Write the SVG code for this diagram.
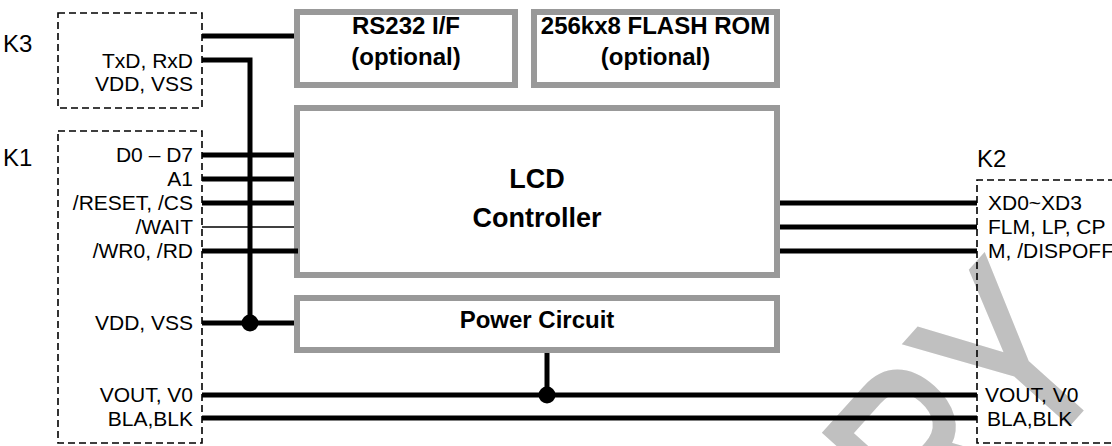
<svg xmlns="http://www.w3.org/2000/svg" width="1112" height="446" viewBox="0 0 1112 446">
<style>
text{font-family:"Liberation Sans",Arial,sans-serif;fill:#000}
.s{font-size:21px}
.k{font-size:24px}
.b{font-size:24px;font-weight:bold}
.bl{font-size:27px;font-weight:bold}
.box{fill:#fff;stroke:#999;stroke-width:6}
.conn{fill:none;stroke:#000;stroke-width:1.6;stroke-dasharray:7 4}
.w{stroke:#000;stroke-width:5;fill:none}
.t{stroke:#000;stroke-width:1.4;fill:none}
.wm{font-family:"Liberation Sans",Arial,sans-serif;font-size:254px;fill:#c0c0c0;stroke:#c0c0c0;stroke-width:5;stroke-linejoin:miter}
</style>
<g id="watermark"><text class="wm" text-anchor="end" transform="translate(1117,370) rotate(-48) scale(0.74,1)">RY</text></g>
<g id="K3">
<rect class="conn" x="58" y="13" width="144" height="95"/>
<text class="k" x="3" y="52">K3</text>
<text class="s" x="193" y="68" text-anchor="end">TxD, RxD</text>
<text class="s" x="193" y="91" text-anchor="end">VDD, VSS</text>
</g>
<g id="K1">
<rect class="conn" x="58" y="131" width="144" height="312"/>
<text class="k" x="3" y="166">K1</text>
<text class="s" x="193" y="162" text-anchor="end">D0 – D7</text>
<text class="s" x="193" y="186" text-anchor="end">A1</text>
<text class="s" x="193" y="210" text-anchor="end">/RESET, /CS</text>
<text class="s" x="193" y="234" text-anchor="end">/WAIT</text>
<text class="s" x="193" y="258" text-anchor="end">/WR0, /RD</text>
<text class="s" x="193" y="330" text-anchor="end">VDD, VSS</text>
<text class="s" x="193" y="402" text-anchor="end">VOUT, V0 </text>
<text class="s" x="193" y="426" text-anchor="end">BLA,BLK</text>
</g>
<g id="K2">
<path class="conn" d="M1115,180 H977 V443 H1115"/>
<text class="k" x="977" y="167">K2</text>
<text class="s" x="988" y="210">XD0~XD3</text>
<text class="s" x="988" y="234">FLM, LP, CP</text>
<text class="s" x="988" y="258">M, /DISPOFF</text>
<text class="s" x="985" y="402">VOUT, V0</text>
<text class="s" x="987" y="426">BLA,BLK</text>
</g>
<g id="rs232">
<rect class="box" x="297" y="12" width="218" height="73"/>
<text class="b" x="406" y="34" text-anchor="middle">RS232 I/F</text>
<text class="b" x="406" y="65" text-anchor="middle">(optional)</text>
</g>
<g id="flash">
<rect class="box" x="534" y="12" width="243" height="73"/>
<text class="b" x="655.5" y="34" text-anchor="middle">256kx8 FLASH ROM</text>
<text class="b" x="655.5" y="65" text-anchor="middle">(optional)</text>
</g>
<g id="lcd">
<rect class="box" x="297" y="108" width="480" height="167"/>
<text class="bl" x="537" y="188" text-anchor="middle">LCD</text>
<text class="bl" x="537" y="227" text-anchor="middle">Controller</text>
</g>
<g id="power">
<rect class="box" x="297" y="298" width="480" height="52"/>
<text class="b" x="537" y="328" text-anchor="middle">Power Circuit</text>
</g>
<g id="connectors">
<path class="w" d="M202,36 H294"/>
<path class="w" d="M202,60 H250 V323"/>
<path class="w" d="M202,155 H294 M202,179 H294 M202,203 H294 M202,251 H298"/>
<path class="t" d="M202,227 H294"/>
<path class="w" d="M202,323 H294"/>
<circle cx="250" cy="323" r="8.5" fill="#000"/>
<path class="w" d="M780,203 H977 M780,227 H977 M780,251 H977"/>
<path class="w" d="M202,395 H977 M202,418 H977"/>
<path class="w" d="M547,353 V395"/>
<circle cx="547" cy="395" r="8.5" fill="#000"/>
</g>
</svg>
